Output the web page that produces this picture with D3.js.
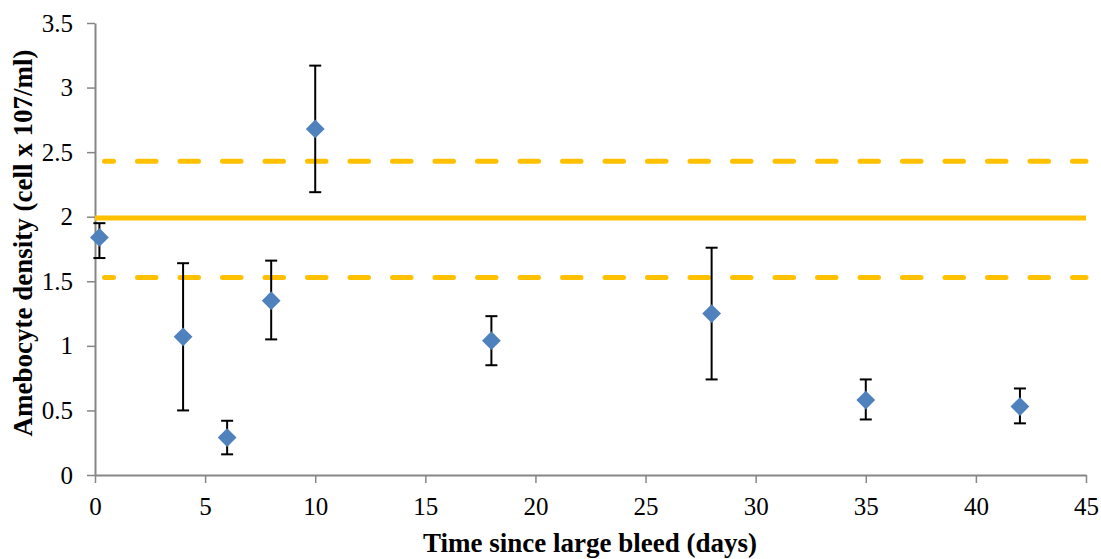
<!DOCTYPE html>
<html>
<head>
<meta charset="utf-8">
<script src="https://cdn.jsdelivr.net/npm/d3@7"></script>
<style>
  body { margin: 0; background: #fff; }
  text { font-family: "Liberation Serif", "Times New Roman", serif; }
  .tick text { font-size: 25px; fill: #000; font-family: "Liberation Serif", "Times New Roman", serif; }
  .axis-title { font-size: 27px; font-weight: bold; }
</style>
</head>
<body>
<div id="chart"></div>
<script>
// days since bleed, mean density and error bar bounds
const days = [0.2, 4, 6, 8, 10, 18, 28, 35, 42];
const density = [1.84, 1.07, 0.29, 1.35, 2.68, 1.04, 1.25, 0.58, 0.53];
const errLow = [1.68, 0.50, 0.16, 1.05, 2.19, 0.85, 0.74, 0.43, 0.40];
const errHigh = [1.95, 1.64, 0.42, 1.66, 3.17, 1.23, 1.76, 0.74, 0.67];

// reference band: mean and +/- limits
const meanLine = 1.99;
const limitLines = [2.43, 1.53];

const xTicks = [0, 5, 10, 15, 20, 25, 30, 35, 40, 45];
const yTicks = [0, 0.5, 1, 1.5, 2, 2.5, 3, 3.5];

const width = 1101;
const height = 559;
const margin = {top: 23, right: 15, bottom: 84, left: 95};

const svg = d3.select("#chart")
    .append("svg")
    .attr("width", width)
    .attr("height", height);

const x = d3.scaleLinear()
    .domain([0, 45])
    .range([margin.left, width - margin.right]);

const y = d3.scaleLinear()
    .domain([0, 3.5])
    .range([height - margin.bottom, margin.top]);

const axisColor = "#868686";

// axes
const xAxis = svg.append("g")
    .attr("transform", `translate(0,${y(0)})`)
    .call(d3.axisBottom(x).tickValues(xTicks).tickSize(8).tickSizeOuter(0).tickPadding(14));

const yAxis = svg.append("g")
    .attr("transform", `translate(${x(0)},0)`)
    .call(d3.axisLeft(y).tickValues(yTicks).tickSize(8).tickSizeOuter(0).tickPadding(14)
        .tickFormat(d3.format("")));

[xAxis, yAxis].forEach(function(g) {
    g.attr("font-family", null).attr("font-size", null);
    g.select(".domain").attr("stroke", axisColor).attr("stroke-width", 2);
    g.selectAll(".tick line").attr("stroke", axisColor).attr("stroke-width", 1.5);
});

// reference lines
svg.append("line")
    .attr("x1", x(0))
    .attr("x2", x(45))
    .attr("y1", y(meanLine))
    .attr("y2", y(meanLine))
    .attr("stroke", "#FFC000")
    .attr("stroke-width", 5);

limitLines.forEach(function(d) {
    svg.append("line")
        .attr("x1", x(0) + 9.5)
        .attr("x2", x(45))
        .attr("y1", y(d))
        .attr("y2", y(d))
        .attr("stroke", "#FFC000")
        .attr("stroke-width", 5)
        .attr("stroke-linecap", "round")
        .attr("stroke-dasharray", "18.5 24")
        .attr("stroke-dashoffset", 9.5);
});

// error bars
const cap = 6;
days.forEach(function(d, i) {
    const g = svg.append("g").attr("stroke", "#000").attr("stroke-width", 2);
    g.append("line")
        .attr("x1", x(d)).attr("x2", x(d))
        .attr("y1", y(errLow[i])).attr("y2", y(errHigh[i]));
    g.append("line")
        .attr("x1", x(d) - cap).attr("x2", x(d) + cap)
        .attr("y1", y(errLow[i])).attr("y2", y(errLow[i]));
    g.append("line")
        .attr("x1", x(d) - cap).attr("x2", x(d) + cap)
        .attr("y1", y(errHigh[i])).attr("y2", y(errHigh[i]));
});

// diamonds
const diamond = d3.symbol().type(d3.symbolDiamond2).size(225);
svg.selectAll(".point")
    .data(days)
    .enter()
    .append("path")
    .attr("class", "point")
    .attr("d", diamond)
    .attr("transform", (d, i) => `translate(${x(d)},${y(density[i])})`)
    .attr("fill", "#4F81BD");

// axis titles
svg.append("text")
    .attr("class", "axis-title")
    .attr("x", 590)
    .attr("y", 552)
    .attr("text-anchor", "middle")
    .text("Time since large bleed (days)");

svg.append("text")
    .attr("class", "axis-title")
    .attr("transform", "translate(32,243) rotate(-90)")
    .attr("text-anchor", "middle")
    .text("Amebocyte density (cell x 107/ml)");
</script>
</body>
</html>
